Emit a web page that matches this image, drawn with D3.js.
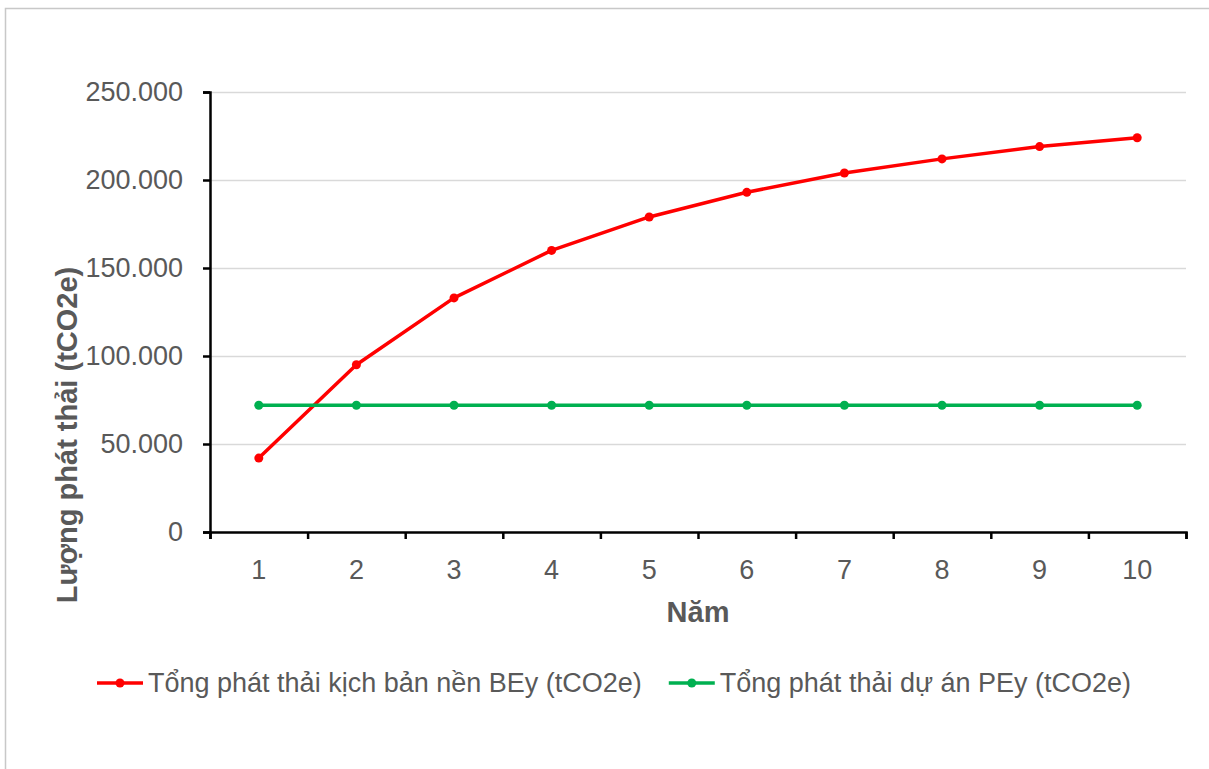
<!DOCTYPE html>
<html>
<head>
<meta charset="utf-8">
<script src="https://d3js.org/d3.v7.min.js"></script>
<style>
    body { margin: 0; background: #fff; overflow: hidden; }
    svg { display: block; }
    text { font-family: "Liberation Sans", Arial, sans-serif; }
</style>
</head>
<body>
<script>
    const w = 1209;
    const h = 769;

    // data
    const years = ['1', '2', '3', '4', '5', '6', '7', '8', '9', '10'];
    const baseEmission = [42000, 95000, 133000, 160000, 179000, 193000, 204000, 212000, 219000, 224000];
    const projectEmission = [72000, 72000, 72000, 72000, 72000, 72000, 72000, 72000, 72000, 72000];
    const yTicks = [0, 50000, 100000, 150000, 200000, 250000];
    const seriesNames = ['Tổng phát thải kịch bản nền BEy (tCO2e)', 'Tổng phát thải dự án PEy (tCO2e)'];
    const seriesColors = ['#ff0000', '#00b050'];

    const plotL = 210, plotR = 1186, plotT = 92, plotB = 532;
    const labelColor = '#595959';

    const vn = d3.formatLocale({decimal: ',', thousands: '.', grouping: [3], currency: ['', '']});
    const fmt = vn.format(',d');

    const svg = d3.select('body').append('svg').attr('width', w).attr('height', h);

    // chart frame: only left and top edges are inside the picture
    svg.append('path')
        .attr('d', `M5.5,${h}V8.5H${w}`)
        .attr('fill', 'none')
        .attr('stroke', '#c8c8c8')
        .attr('stroke-width', 1.5);

    const x = d3.scaleBand().domain(years).range([plotL, plotR]);
    const xEdge = d3.scaleLinear().domain([0, years.length]).range([plotL, plotR]);
    const y = d3.scaleLinear().domain([0, 250000]).range([plotB, plotT]);
    const cx = d => x(d) + x.bandwidth() / 2;

    // gridlines
    svg.append('g')
        .attr('transform', `translate(${plotL},0)`)
        .call(d3.axisLeft(y).tickValues(yTicks.slice(1)).tickSize(-(plotR - plotL)).tickFormat(''))
        .call(g => g.select('.domain').remove())
        .selectAll('line')
        .attr('stroke', '#d9d9d9')
        .attr('stroke-width', 1.5);

    // y axis
    const yAxis = svg.append('g')
        .attr('transform', `translate(${plotL},0)`)
        .call(d3.axisLeft(y).tickValues(yTicks).tickSize(7).tickPadding(20).tickFormat(fmt));
    yAxis.select('.domain').attr('stroke', '#000').attr('stroke-width', 2.5);
    yAxis.selectAll('line').attr('stroke', '#000').attr('stroke-width', 2.5);
    yAxis.selectAll('text')
        .attr('fill', labelColor)
        .attr('font-size', '27px')
        .attr('font-family', '"Liberation Sans", Arial, sans-serif');

    // x axis: tick marks between categories, labels at the centres
    const xTicks = svg.append('g')
        .attr('transform', `translate(0,${plotB})`)
        .call(d3.axisBottom(xEdge).ticks(years.length).tickSize(7).tickFormat('').tickSizeOuter(7));
    xTicks.select('.domain').attr('stroke', '#000').attr('stroke-width', 2.5);
    xTicks.selectAll('line').attr('stroke', '#000').attr('stroke-width', 2.5);

    svg.append('g')
        .attr('transform', `translate(0,${plotB})`)
        .call(d3.axisBottom(x).tickSize(0).tickPadding(28))
        .call(g => g.select('.domain').remove())
        .selectAll('text')
        .attr('fill', labelColor)
        .attr('font-size', '27px')
        .attr('font-family', '"Liberation Sans", Arial, sans-serif');

    // axis titles
    svg.append('text')
        .attr('x', (plotL + plotR) / 2)
        .attr('y', 622)
        .attr('text-anchor', 'middle')
        .attr('font-size', '29px')
        .attr('font-weight', 'bold')
        .attr('fill', labelColor)
        .text('Năm');

    svg.append('text')
        .attr('transform', 'translate(77,435) rotate(-90)')
        .attr('text-anchor', 'middle')
        .attr('font-size', '29px')
        .attr('font-weight', 'bold')
        .attr('fill', labelColor)
        .text('Lượng phát thải (tCO2e)');

    // series
    const series = [baseEmission, projectEmission];
    const line = d3.line().x((d, i) => cx(years[i])).y(d => y(d));

    series.forEach((vals, k) => {
        svg.append('path')
            .datum(vals)
            .attr('d', line)
            .attr('fill', 'none')
            .attr('stroke', seriesColors[k])
            .attr('stroke-width', 3.5)
            .attr('stroke-linejoin', 'round');

        svg.selectAll('.pt' + k)
            .data(vals)
            .enter()
            .append('circle')
            .attr('class', 'pt' + k)
            .attr('cx', (d, i) => cx(years[i]))
            .attr('cy', d => y(d))
            .attr('r', 4.5)
            .attr('fill', seriesColors[k]);
    });

    // legend
    let lx = 97;
    const ly = 683;
    seriesNames.forEach((name, k) => {
        const g = svg.append('g');
        g.append('line')
            .attr('x1', lx).attr('x2', lx + 46)
            .attr('y1', ly).attr('y2', ly)
            .attr('stroke', seriesColors[k])
            .attr('stroke-width', 3.5);
        g.append('circle')
            .attr('cx', lx + 23).attr('cy', ly)
            .attr('r', 4.5)
            .attr('fill', seriesColors[k]);
        const t = g.append('text')
            .attr('x', lx + 51)
            .attr('y', ly + 9)
            .attr('font-size', '27px')
            .attr('fill', labelColor)
            .text(name);
        lx += 51 + t.node().getComputedTextLength() + 27;
    });
</script>
</body>
</html>
